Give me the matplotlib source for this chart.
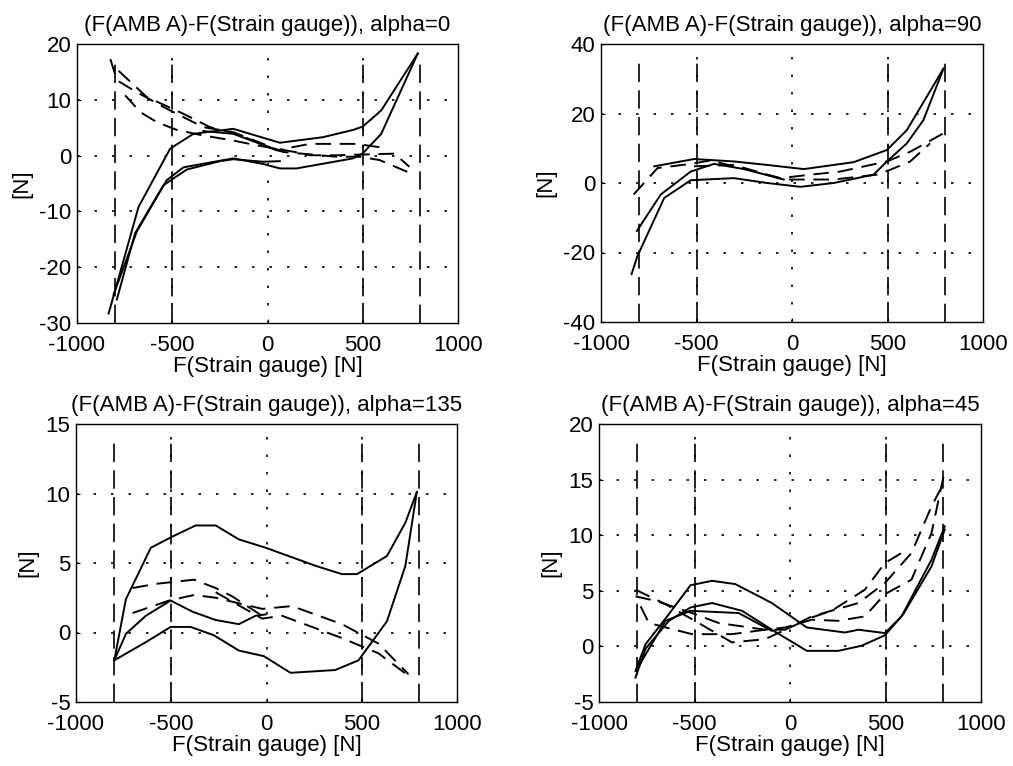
import matplotlib
matplotlib.use("Agg")
import matplotlib.pyplot as plt

plt.rcParams['font.family'] = ['Liberation Sans', 'DejaVu Sans']
plt.rcParams['axes.unicode_minus'] = False

# ---------------- data ----------------
marker_x = [-800, -500, 500, 800]

# Panel alpha=0
p0_s1_x = [-834, -677, -511, -389, -180, 65, 291, 449, 500, 597, 789]
p0_s1_y = [-28.3, -9.2, 1.25, 3.9, 4.8, 2.3, 3.3, 4.6, 5.2, 8.1, 18.3]
p0_s2_x = [789, 597, 500, 449, 152, 65, -23, -180, -441, -529, -686, -808]
p0_s2_y = [18.3, 3.9, 0.4, -0.5, -2.3, -2.3, -1.5, -0.5, -2.1, -4.4, -13.6, -24.9]
p0_s3_x = [-791, -695, -546, -424, -250, -180, -23, 65]
p0_s3_y = [-25.8, -13.9, -5.3, -2.5, -1.0, -0.65, -1.1, -1.0]
p0_s4_x = [-337, -180, 65]
p0_s4_y = [4.4, 3.9, 0.8]
p0_d1_x = [-825, -790, -703, -529, -337, -180, -23, 82, 361, 483, 588, 754]
p0_d1_y = [17.3, 13.5, 11.7, 8.4, 5.1, 4.2, 2.1, 0.65, -0.2, -0.2, -0.8, -3.2]
p0_d2_x = [-782, -634, -442, -302, -162, 47, 222, 379, 466, 588]
p0_d2_y = [15.2, 10.5, 7.5, 5.1, 3.9, 0.95, 2.1, 2.1, 2.1, 1.5]
p0_d3_x = [-747, -668, -581, -476, -337, -180, -58, 143, 222, 361, 666, 745]
p0_d3_y = [10.8, 7.8, 6.0, 4.6, 3.6, 2.7, 1.85, 0.65, 0.06, 0.06, 0.35, -2.0]

# Panel alpha=90
p1_s1_x = [-721, -513, -304, -130, 62, 323, 497, 601, 793]
p1_s1_y = [4.8, 6.9, 6.2, 5.2, 4.0, 6.0, 9.5, 15.2, 32.9]
p1_s2_x = [793, 688, 601, 497, 427, 218, 44, -130, -304, -530, -669, -809, -840]
p1_s2_y = [32.9, 18.1, 11.4, 6.2, 2.4, 0.0, -1.1, 0.0, 1.4, 0.8, -4.3, -21.0, -26.2]
p1_s3_x = [-812, -687, -530, -408, -250, -43]
p1_s3_y = [-13.8, -3.3, 3.3, 5.5, 4.0, 1.0]
p1_d1_x = [-829, -704, -530, -426, -269, -60, 97, 253, 497, 619, 793]
p1_d1_y = [-3.3, 4.3, 5.5, 6.5, 4.3, 1.4, 2.4, 3.3, 6.2, 9.0, 14.3]
p1_d2_x = [-513, -304, -43, 218, 445, 514, 619, 723]
p1_d2_y = [4.8, 5.2, 1.0, 1.0, 2.4, 3.8, 6.2, 11.4]

# Panel alpha=135
p2_s1_x = [-799, -738, -607, -494, -372, -267, -145, -5, 257, 396, 475, 632, 729, 789]
p2_s1_y = [-2.0, 2.4, 6.1, 6.9, 7.7, 7.7, 6.7, 6.1, 4.8, 4.2, 4.2, 5.5, 7.9, 10.1]
p2_s2_x = [789, 729, 632, 483, 361, 126, -14, -145, -276, -398, -503, -634, -799]
p2_s2_y = [10.1, 4.8, 0.8, -2.0, -2.7, -2.9, -1.7, -1.3, -0.2, 0.4, 0.4, -0.7, -2.0]
p2_s3_x = [-799, -738, -634, -503, -389, -267, -145, -58, -5]
p2_s3_y = [-2.0, -0.1, 1.2, 2.3, 1.5, 0.9, 0.6, 1.2, 1.3]
p2_d1_x = [-703, -581, -380, -267, -180, -23]
p2_d1_y = [3.2, 3.5, 3.8, 3.2, 2.6, 1.2]
p2_d2_x = [-703, -511, -380, -267, -23, 134, 396, 588, 745]
p2_d2_y = [1.4, 2.3, 2.7, 2.5, 1.7, 1.9, 0.6, -0.8, -3.0]
p2_d3_x = [-267, -23, 82, 396, 588, 754]
p2_d3_y = [2.9, 1.0, 1.2, -0.4, -1.5, -3.2]

# Panel alpha=45
p3_s1_x = [-809, -756, -643, -521, -408, -286, -95, 88, 288, 358, 497, 584, 741, 810]
p3_s1_y = [-2.2, 0.2, 2.7, 5.5, 5.9, 5.6, 3.9, 1.7, 1.25, 1.5, 1.2, 2.7, 7.8, 10.8]
p3_s2_x = [810, 741, 593, 497, 375, 253, 88, -95, -251, -408, -521, -634, -756, -809]
p3_s2_y = [10.5, 7.2, 2.9, 1.0, 0.06, -0.4, -0.4, 1.5, 3.2, 3.9, 3.5, 2.3, -0.2, -2.8]
p3_s3_x = [-800, -652, -521, -269, -95]
p3_s3_y = [-2.0, 2.3, 3.2, 3.0, 1.4]
p3_d1_x = [-809, -704, -513, -373, -130, -25, 114, 253, 392, 497, 636, 741, 810]
p3_d1_y = [4.5, 4.1, 3.0, 2.1, 1.5, 1.7, 2.4, 2.3, 2.7, 4.7, 6.0, 10.2, 15.8]
p3_d2_x = [-809, -652, -478, -304, -130, -25, 114, 218, 392, 497, 584]
p3_d2_y = [5.1, 3.8, 2.1, 0.36, 0.65, 1.5, 2.6, 3.2, 5.1, 7.5, 8.4]
p3_d3_x = [-782, -739, -513, -304, -130, -25, 114, 358, 497, 636, 741, 793]
p3_d3_y = [3.6, 2.1, 1.1, 1.1, 1.5, 1.5, 2.7, 3.9, 5.7, 8.4, 12.6, 14.3]

titles = ["(F(AMB A)-F(Strain gauge)), alpha=0",
          "(F(AMB A)-F(Strain gauge)), alpha=90",
          "(F(AMB A)-F(Strain gauge)), alpha=135",
          "(F(AMB A)-F(Strain gauge)), alpha=45"]
xticks = [-1000, -500, 0, 500, 1000]
yticks_list = [[-30, -20, -10, 0, 10, 20],
               [-40, -20, 0, 20, 40],
               [-5, 0, 5, 10, 15],
               [-5, 0, 5, 10, 15, 20]]
xlabel = "F(Strain gauge) [N]"
ylabel = "[N]"

panels = [
    ([(p0_s1_x, p0_s1_y), (p0_s2_x, p0_s2_y), (p0_s3_x, p0_s3_y), (p0_s4_x, p0_s4_y)],
     [(p0_d1_x, p0_d1_y), (p0_d2_x, p0_d2_y), (p0_d3_x, p0_d3_y)]),
    ([(p1_s1_x, p1_s1_y), (p1_s2_x, p1_s2_y), (p1_s3_x, p1_s3_y)],
     [(p1_d1_x, p1_d1_y), (p1_d2_x, p1_d2_y)]),
    ([(p2_s1_x, p2_s1_y), (p2_s2_x, p2_s2_y), (p2_s3_x, p2_s3_y)],
     [(p2_d1_x, p2_d1_y), (p2_d2_x, p2_d2_y), (p2_d3_x, p2_d3_y)]),
    ([(p3_s1_x, p3_s1_y), (p3_s2_x, p3_s2_y), (p3_s3_x, p3_s3_y)],
     [(p3_d1_x, p3_d1_y), (p3_d2_x, p3_d2_y), (p3_d3_x, p3_d3_y)]),
]

positions = [
    [77 / 1013, (766 - 323) / 766, 381 / 1013, 279 / 766],
    [601 / 1013, (766 - 322) / 766, 382 / 1013, 278 / 766],
    [76 / 1013, (766 - 702) / 766, 381 / 1013, 278 / 766],
    [599 / 1013, (766 - 702) / 766, 382 / 1013, 278 / 766],
]

fig = plt.figure(figsize=(10.13, 7.66), dpi=100)
FS = 16

for i, (pos, (solids, dashes)) in enumerate(zip(positions, panels)):
    ax = fig.add_axes(pos)
    yt = yticks_list[i]
    ax.set_xlim(-1000, 1000)
    ax.set_ylim(yt[0], yt[-1])
    ax.set_xticks(xticks)
    ax.set_yticks(yt)
    ax.tick_params(labelsize=FS, direction='in', length=3, width=0.8)
    ax.tick_params(axis='x', pad=8.5)
    ax.tick_params(axis='y', pad=4)
    # dotted grid
    for gx in xticks[1:-1]:
        ax.plot([gx, gx], [yt[0], yt[-1]], color='black', lw=1.2,
                linestyle=(0, (1.5, 9)), zorder=1)
    for gy in yt[1:-1]:
        ax.plot([-1000, 1000], [gy, gy], color='black', lw=1.2,
                linestyle=(0, (1.5, 9)), zorder=1)
    # vertical dashed markers
    for mx in marker_x:
        ax.axvline(mx, ymin=0, ymax=0.95, color='black', lw=1.2,
                   linestyle=(0, (11, 5)), zorder=2)
    for xs, ys in solids:
        ax.plot(xs, ys, color='black', lw=1.4, zorder=3)
    for xs, ys in dashes:
        ax.plot(xs, ys, color='black', lw=1.4, linestyle=(0, (8, 4.5)), zorder=3)
    ax.set_title(titles[i], fontsize=FS, pad=9)
    ax.set_xlabel(xlabel, fontsize=FS, labelpad=0)
    ax.set_ylabel(ylabel, fontsize=FS, labelpad=5)
    for sp in ax.spines.values():
        sp.set_linewidth(1.0)

fig.savefig("out.png", dpi=100)
